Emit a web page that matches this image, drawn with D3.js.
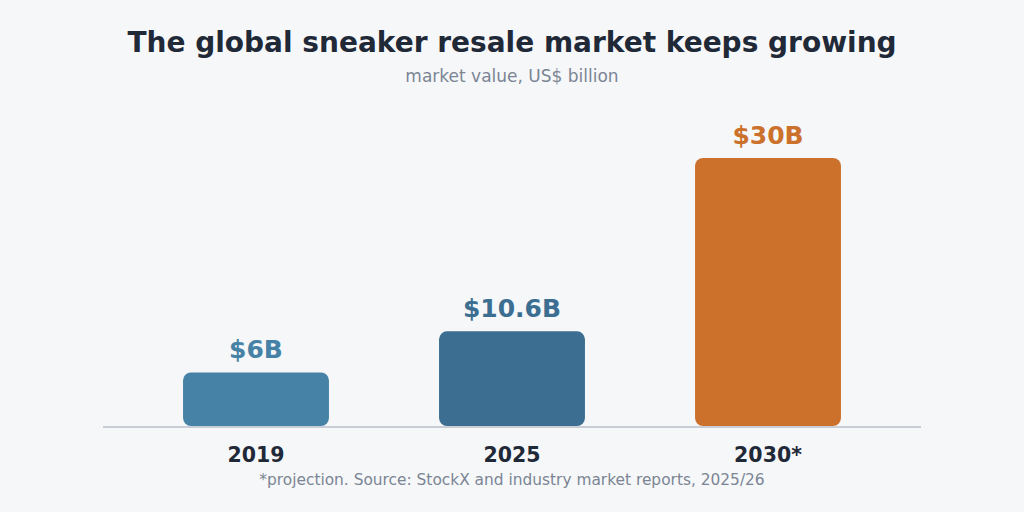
<!DOCTYPE html>
<html>
<head>
<meta charset="utf-8">
<script src="https://cdn.jsdelivr.net/npm/d3@7"></script>
<style>
  html, body { margin: 0; padding: 0; background: #f6f7f9; }
  svg { display: block; font-family: "DejaVu Sans", sans-serif; }
</style>
</head>
<body>
<div id="chart"></div>
<script>
// data
var years = ["2019", "2025", "2030*"];
var values = [6, 10.6, 30];
var valueLabels = ["$6B", "$10.6B", "$30B"];
var barColors = ["#4682a6", "#3b6e91", "#cc712b"];

var width = 1024, height = 512;

var svg = d3.select("#chart").append("svg")
    .attr("width", width)
    .attr("height", height);

svg.append("rect")
    .attr("width", width)
    .attr("height", height)
    .attr("fill", "#f6f7f9");

// title + subtitle
svg.append("text")
    .attr("x", width / 2)
    .attr("y", 52)
    .attr("text-anchor", "middle")
    .style("font-size", "28px")
    .style("font-weight", "bold")
    .attr("fill", "#1f2937")
    .text("The global sneaker resale market keeps growing");

svg.append("text")
    .attr("x", width / 2)
    .attr("y", 82)
    .attr("text-anchor", "middle")
    .style("font-size", "17px")
    .attr("fill", "#7b8594")
    .text("market value, US$ billion");

var x = d3.scaleBand()
    .domain(years)
    .range([128, 896])
    .paddingInner(0.43)
    .paddingOuter(0.215);

var y = d3.scaleLinear()
    .domain([0, 30])
    .range([426, 158]);

// bars, rounded on every corner
svg.selectAll("rect.bar")
    .data(values)
    .enter().append("rect")
    .attr("class", "bar")
    .attr("x", function(d, i) { return x(years[i]); })
    .attr("y", function(d) { return y(d); })
    .attr("width", x.bandwidth())
    .attr("height", function(d) { return y(0) - y(d); })
    .attr("rx", 8)
    .attr("ry", 8)
    .attr("fill", function(d, i) { return barColors[i]; });

// baseline
svg.append("line")
    .attr("x1", 103)
    .attr("x2", 921)
    .attr("y1", y(0) + 1)
    .attr("y2", y(0) + 1)
    .attr("stroke", "#c9ced6")
    .attr("stroke-width", 2);

// value labels above bars
svg.selectAll("text.value")
    .data(values)
    .enter().append("text")
    .attr("class", "value")
    .attr("x", function(d, i) { return x(years[i]) + x.bandwidth() / 2; })
    .attr("y", function(d) { return y(d) - 14; })
    .attr("text-anchor", "middle")
    .style("font-size", "25px")
    .style("font-weight", "bold")
    .attr("fill", function(d, i) { return barColors[i]; })
    .text(function(d, i) { return valueLabels[i]; });

// year labels
svg.selectAll("text.year")
    .data(years)
    .enter().append("text")
    .attr("class", "year")
    .attr("x", function(d) { return x(d) + x.bandwidth() / 2; })
    .attr("y", 462)
    .attr("text-anchor", "middle")
    .style("font-size", "20.5px")
    .style("font-weight", "bold")
    .attr("fill", "#1f2937")
    .text(function(d) { return d; });

svg.append("text")
    .attr("x", width / 2)
    .attr("y", 485)
    .attr("text-anchor", "middle")
    .style("font-size", "15.4px")
    .attr("fill", "#7b8594")
    .text("*projection. Source: StockX and industry market reports, 2025/26");
</script>
</body>
</html>
